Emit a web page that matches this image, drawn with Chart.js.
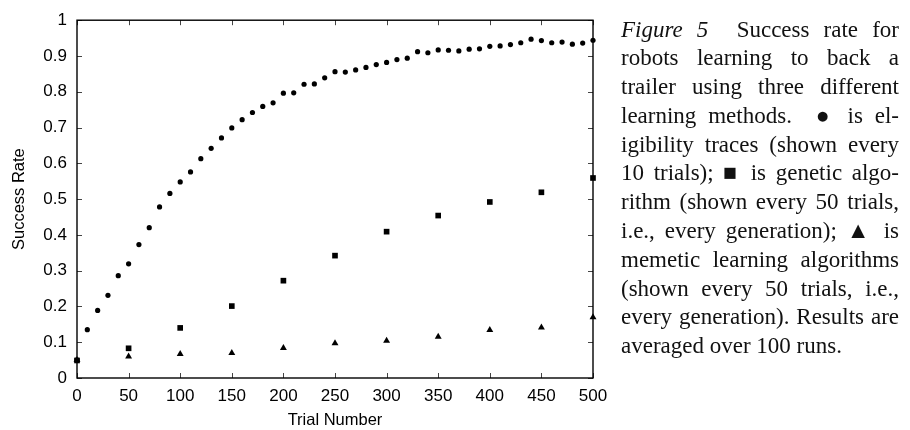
<!DOCTYPE html>
<html><head><meta charset="utf-8">
<script src="https://cdn.jsdelivr.net/npm/chart.js@4"></script>
<style>
html,body{margin:0;padding:0;background:#fff;}
#wrap{position:relative;width:910px;height:430px;overflow:hidden;}
#c{position:absolute;left:0;top:0;}
#cap{position:absolute;left:621px;top:15.5px;width:278px;font-family:"Liberation Serif","Times New Roman",serif;font-size:23px;color:#111;}
#cap div{height:28.8px;line-height:28.8px;text-align:justify;text-align-last:justify;}
#cap div.last{text-align-last:left;}
</style></head>
<body>
<div id="wrap">
<canvas id="c" width="910" height="430"></canvas>
<div id="cap">
<div><i>Figure 5</i>&nbsp; Success rate for</div>
<div>robots learning to back a</div>
<div>trailer using three different</div>
<div>learning methods. &nbsp;● is el-</div>
<div>igibility traces (shown every</div>
<div>10 trials); ■ is genetic algo-</div>
<div>rithm (shown every 50 trials,</div>
<div>i.e., every generation); ▲ is</div>
<div>memetic learning algorithms</div>
<div>(shown every 50 trials, i.e.,</div>
<div>every generation). Results are</div>
<div class="last">averaged over 100 runs.</div>
</div>
</div>
<script>
// ---- data ----
const eligTrials = [0,10,20,30,40,50,60,70,80,90,100,110,120,130,140,150,160,170,180,190,200,210,220,230,240,250,260,270,280,290,300,310,320,330,340,350,360,370,380,390,400,410,420,430,440,450,460,470,480,490,500];
const eligibility = [0.051,0.135,0.189,0.231,0.286,0.319,0.373,0.420,0.478,0.516,0.548,0.576,0.613,0.642,0.671,0.699,0.722,0.742,0.759,0.769,0.796,0.797,0.821,0.822,0.839,0.856,0.855,0.861,0.868,0.876,0.882,0.890,0.894,0.912,0.909,0.917,0.916,0.914,0.919,0.920,0.927,0.928,0.932,0.937,0.947,0.943,0.937,0.939,0.933,0.936,0.944];
const genTrials = [0,50,100,150,200,250,300,350,400,450,500];
const genetic = [0.049,0.083,0.140,0.201,0.272,0.342,0.409,0.454,0.492,0.519,0.559];
const memetic = [0.050,0.060,0.067,0.070,0.084,0.097,0.104,0.115,0.134,0.141,0.170];
const xTickValues = [0,50,100,150,200,250,300,350,400,450,500];
const yTickValues = [0,0.1,0.2,0.3,0.4,0.5,0.6,0.7,0.8,0.9,1];
const xTitle = 'Trial Number';
const yTitle = 'Success Rate';

const pts = (xs, ys) => xs.map((x,i)=>({x:x, y:ys[i]}));

Chart.defaults.font.family = '"Liberation Sans", Arial, sans-serif';
Chart.defaults.color = '#000';

const frame = {
  id:'frame',
  beforeDatasetsDraw(chart){
    const {ctx, chartArea:a, scales:{x,y}} = chart;
    ctx.save();
    ctx.strokeStyle='#444'; ctx.lineWidth=1;
    ctx.beginPath();
    x.ticks.forEach(t=>{const p=Math.round(x.getPixelForValue(t.value))+0.5;
      ctx.moveTo(p,a.bottom); ctx.lineTo(p,a.bottom-5);
      ctx.moveTo(p,a.top); ctx.lineTo(p,a.top+5);});
    y.ticks.forEach(t=>{const p=Math.round(y.getPixelForValue(t.value))+0.5;
      ctx.moveTo(a.left,p); ctx.lineTo(a.left+5,p);
      ctx.moveTo(a.right,p); ctx.lineTo(a.right-5,p);});
    ctx.stroke();
    ctx.strokeStyle='#000'; ctx.lineWidth=1.4;
    ctx.strokeRect(a.left,a.top,a.right-a.left,a.bottom-a.top);
    ctx.restore();
  }
};

new Chart(document.getElementById('c'), {
  type:'scatter',
  data:{datasets:[
    {label:'eligibility traces', data:pts(eligTrials, eligibility), pointStyle:'circle', pointRadius:2.6, backgroundColor:'#000', borderColor:'#000', borderWidth:0, clip:false},
    {label:'genetic algorithm', data:pts(genTrials, genetic), pointStyle:'rect', pointRadius:4, backgroundColor:'#000', borderColor:'#000', borderWidth:0, clip:false},
    {label:'memetic learning', data:pts(genTrials, memetic), pointStyle:'triangle', pointRadius:4, backgroundColor:'#000', borderColor:'#000', borderWidth:0, clip:false}
  ]},
  options:{
    responsive:false, animation:false, events:[],
    layout:{padding:{left:0, top:14, right:317, bottom:0}},
    plugins:{legend:{display:false}, tooltip:{enabled:false}},
    scales:{
      x:{type:'linear', min:0, max:500,
        afterBuildTicks:s=>{s.ticks = xTickValues.map(v=>({value:v}));},
        afterFit:s=>{s.height = 52;},
        grid:{display:false, drawTicks:false}, border:{display:false},
        ticks:{padding:8, font:{size:17}, maxRotation:0, autoSkip:false, callback:v=>String(v)},
        title:{display:true, text:xTitle, font:{size:16.5}, padding:{top:0,bottom:0}}
      },
      y:{type:'linear', min:0, max:1,
        afterBuildTicks:s=>{s.ticks = yTickValues.map(v=>({value:v}));},
        afterFit:s=>{s.width = 77;},
        grid:{display:false, drawTicks:false}, border:{display:false},
        ticks:{padding:10, font:{size:17}, autoSkip:false, callback:v=>String(+(+v).toFixed(2))},
        title:{display:true, text:yTitle, font:{size:16.5}, padding:{top:10,bottom:0}}
      }
    }
  },
  plugins:[frame]
});
</script>
</body></html>
